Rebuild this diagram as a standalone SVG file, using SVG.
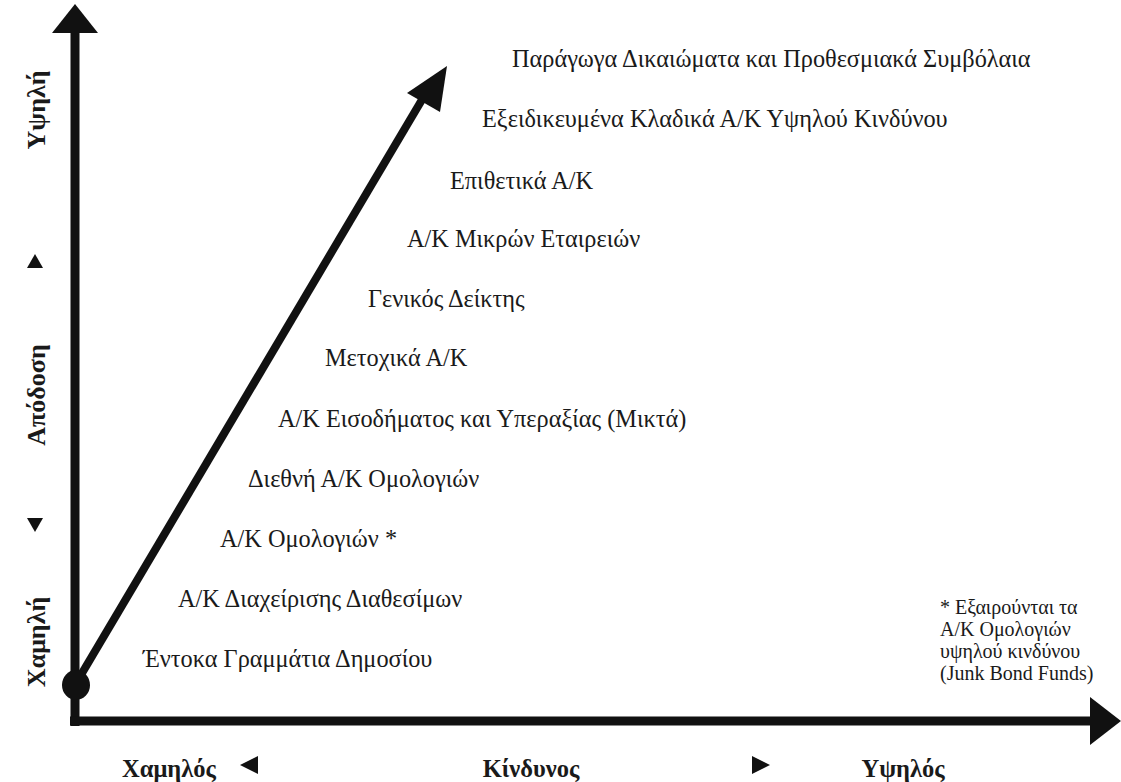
<svg xmlns="http://www.w3.org/2000/svg" width="1121" height="782" viewBox="0 0 1121 782">
<style>
.item{font-family:"Liberation Serif","DejaVu Serif",serif;font-size:24.3px;fill:#1a1a1a}
.axis{font-family:"Liberation Serif","DejaVu Serif",serif;font-size:24.5px;font-weight:bold;fill:#1a1a1a}
.vaxis{font-family:"Liberation Serif","DejaVu Serif",serif;font-size:26px;font-weight:bold;fill:#1a1a1a}
.note{font-family:"Liberation Serif","DejaVu Serif",serif;font-size:20px;fill:#1a1a1a}
.ln{stroke:#111;stroke-width:9;fill:none}
.tri{fill:#111}
</style>
<rect width="1121" height="782" fill="#fff"/>
<g id="connectors">
<line class="ln" x1="75" y1="30" x2="75" y2="726"/>
<polygon class="tri" points="75,4 52,33 98,33"/>
<line class="ln" x1="70" y1="721" x2="1092" y2="721"/>
<polygon class="tri" points="1121,721 1090,697 1090,745"/>
<line class="ln" style="stroke-width:8" x1="75" y1="685" x2="423" y2="98"/>
<polygon class="tri" points="447,66 407,93 440,112"/>
<ellipse cx="76" cy="685" rx="14" ry="15" fill="#111"/>
</g>
<g id="y-axis-labels">
<text class="vaxis" transform="translate(45,110) rotate(-90)" text-anchor="middle">Υψηλή</text>
<polygon class="tri" points="35,254 27,268 43,268"/>
<text class="vaxis" transform="translate(45,395) rotate(-90)" text-anchor="middle">Απόδοση</text>
<polygon class="tri" points="35,532 27,518 43,518"/>
<text class="vaxis" transform="translate(45,642) rotate(-90)" text-anchor="middle">Χαμηλή</text>
</g>
<g id="x-axis-labels">
<text class="axis" x="169" y="777" text-anchor="middle">Χαμηλός</text>
<polygon class="tri" points="240,765 258,756 258,774"/>
<text class="axis" x="531" y="777" text-anchor="middle">Κίνδυνος</text>
<polygon class="tri" points="770,765 752,756 752,774"/>
<text class="axis" x="903" y="777" text-anchor="middle">Υψηλός</text>
</g>
<g id="n1"><text class="item" x="512" y="67">Παράγωγα Δικαιώματα και Προθεσμιακά Συμβόλαια</text></g>
<g id="n2"><text class="item" x="482" y="127">Εξειδικευμένα Κλαδικά Α/Κ Υψηλού Κινδύνου</text></g>
<g id="n3"><text class="item" x="450" y="189">Επιθετικά Α/Κ</text></g>
<g id="n4"><text class="item" x="407" y="247">Α/Κ Μικρών Εταιρειών</text></g>
<g id="n5"><text class="item" x="368" y="307">Γενικός Δείκτης</text></g>
<g id="n6"><text class="item" x="325" y="366">Μετοχικά Α/Κ</text></g>
<g id="n7"><text class="item" x="278" y="427">Α/Κ Εισοδήματος και Υπεραξίας (Μικτά)</text></g>
<g id="n8"><text class="item" x="248" y="487">Διεθνή Α/Κ Ομολογιών</text></g>
<g id="n9"><text class="item" x="220" y="547">Α/Κ Ομολογιών *</text></g>
<g id="n10"><text class="item" x="178" y="607">Α/Κ Διαχείρισης Διαθεσίμων</text></g>
<g id="n11"><text class="item" x="143" y="667">Έντοκα Γραμμάτια Δημοσίου</text></g>
<g id="footnote">
<text class="note" x="940" y="614">* Εξαιρούνται τα</text>
<text class="note" x="940" y="636">Α/Κ Ομολογιών</text>
<text class="note" x="940" y="658">υψηλού κινδύνου</text>
<text class="note" x="940" y="680">(Junk Bond Funds)</text>
</g>
</svg>
